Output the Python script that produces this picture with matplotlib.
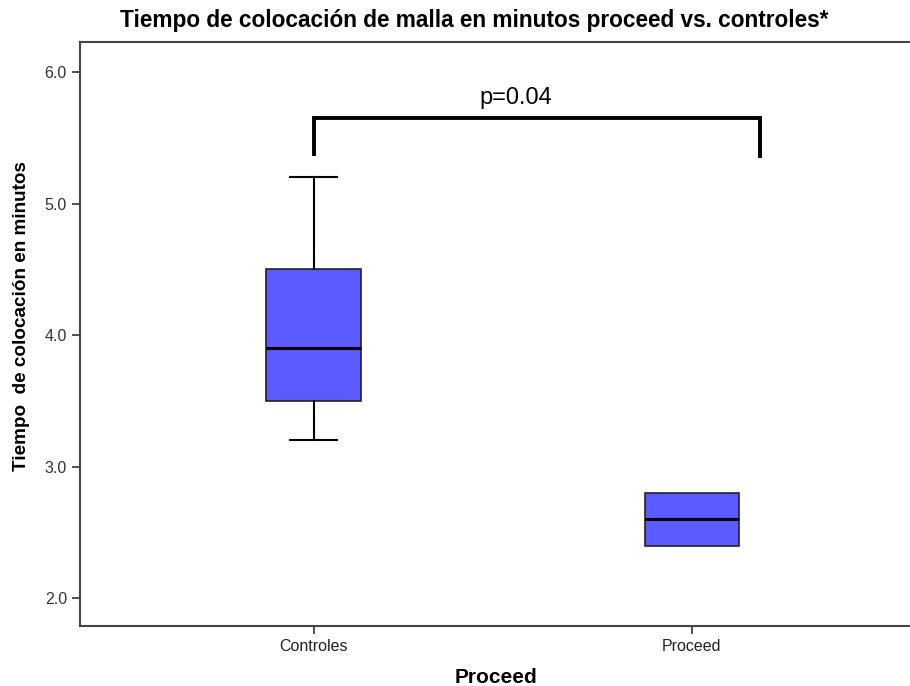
import matplotlib
matplotlib.use('Agg')
import matplotlib.pyplot as plt

plt.rcParams['font.family'] = ['Liberation Sans', 'DejaVu Sans']

groups = ['Controles', 'Proceed']
whisker_low = [3.2, 2.4]
q1 = [3.5, 2.4]
medians = [3.9, 2.6]
q3 = [4.5, 2.8]
whisker_high = [5.2, 2.8]
yticks = [2.0, 3.0, 4.0, 5.0, 6.0]
p_label = 'p=0.04'
bracket_x = [0.0, 1.18]
bracket_ends = [5.38, 5.36]
bracket_top = 5.65

fig = plt.figure(figsize=(9.1, 6.86), dpi=100)
ax = fig.add_axes([0.088, 0.0875, 0.915, 0.8515])

stats = []
for i, g in enumerate(groups):
    stats.append({'label': g, 'whislo': whisker_low[i], 'q1': q1[i],
                  'med': medians[i], 'q3': q3[i], 'whishi': whisker_high[i],
                  'fliers': []})

ax.bxp(stats, positions=[0, 1], widths=0.25, patch_artist=True,
       boxprops=dict(facecolor='#5b5bff', edgecolor='#222222', linewidth=1.2),
       medianprops=dict(color='black', linewidth=2.2),
       whiskerprops=dict(color='black', linewidth=1.5),
       capprops=dict(color='black', linewidth=1.5),
       capwidths=[0.125, 0.0], showfliers=False)

# significance bracket
ax.plot([bracket_x[0], bracket_x[0], bracket_x[1], bracket_x[1]],
        [bracket_ends[0], bracket_top, bracket_top, bracket_ends[1]],
        color='black', linewidth=2.8, solid_joinstyle='miter')
ax.text(0.535, 5.8, p_label, ha='center', va='center', fontsize=17)

ax.set_xlim(-0.618, 1.584)
ax.set_ylim(1.79, 6.23)
ax.set_yticks(yticks)
ax.set_yticklabels(['%.1f' % v for v in yticks], fontsize=11.5, color='#333333')
ax.set_xticks([0, 1])
ax.set_xticklabels(groups, fontsize=11.5, color='#222222')
ax.tick_params(axis='both', direction='out', length=6, width=1.2, color='#333333')

for s in ax.spines.values():
    s.set_color('#444444')
    s.set_linewidth(1.5)

ax.set_ylabel('Tiempo  de colocación en minutos', fontsize=13.6, fontweight='bold')
ax.yaxis.set_label_coords(-0.06, 0.53)
ax.set_xlabel('Proceed', fontsize=15, fontweight='bold', labelpad=10)
fig.text(0.132, 0.97, 'Tiempo de colocación de malla en minutos proceed vs. controles*',
         fontsize=16.3, fontweight='bold', va='center', ha='left')

fig.savefig('out.png', dpi=100)
